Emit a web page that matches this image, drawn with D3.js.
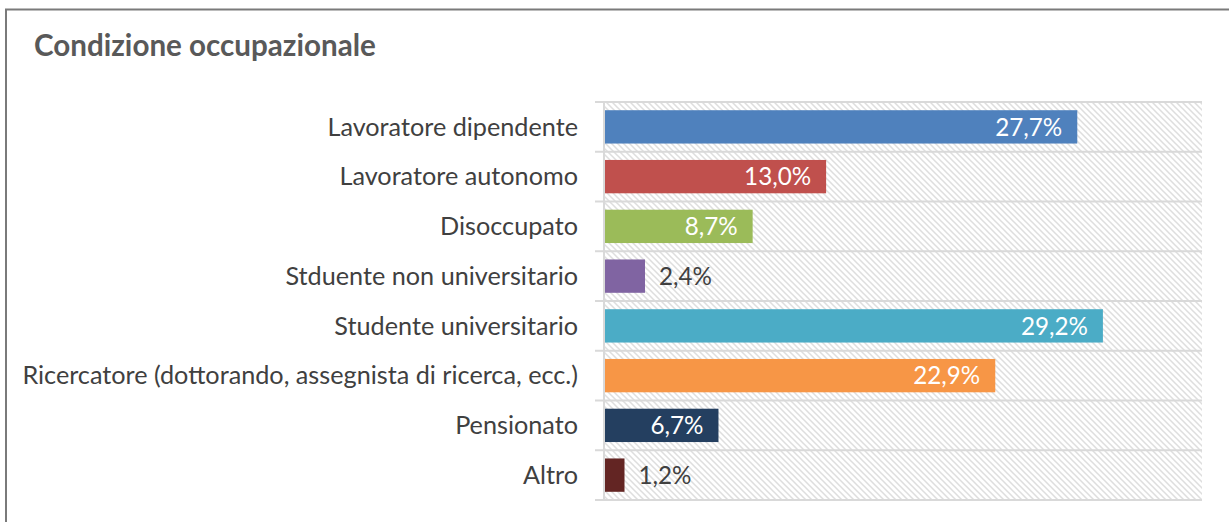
<!DOCTYPE html>
<html>
<head>
<meta charset="utf-8">
<script src="https://cdn.jsdelivr.net/npm/d3@7/dist/d3.min.js"></script>
<style>
  html, body { margin: 0; padding: 0; background: #ffffff; }
  svg { display: block; font-family: Lato, "Open Sans", sans-serif; }
</style>
</head>
<body>
<svg id="chart" width="1229" height="522"></svg>
<script>
// Employment status of respondents (percent)
const categories = [
  "Lavoratore dipendente",
  "Lavoratore autonomo",
  "Disoccupato",
  "Stduente non universitario",
  "Studente universitario",
  "Ricercatore (dottorando, assegnista di ricerca, ecc.)",
  "Pensionato",
  "Altro"
];
const values = [27.7, 13.0, 8.7, 2.4, 29.2, 22.9, 6.7, 1.2];
const colors = ["#4F81BD", "#C0504D", "#9BBB59", "#8064A2", "#4BACC6", "#F79646", "#243F60", "#632523"];
const valueLabels = ["27,7%", "13,0%", "8,7%", "2,4%", "29,2%", "22,9%", "6,7%", "1,2%"];
const title = "Condizione occupazionale";

const svg = d3.select("#chart");

// outer frame
svg.append("rect")
  .attr("x", 6).attr("y", 9.5)
  .attr("width", 1240).attr("height", 540)
  .attr("fill", "none").attr("stroke", "#7a7a7a").attr("stroke-width", 2);

// title
const titleText = svg.append("text")
  .attr("x", 34).attr("y", 56)
  .attr("fill", "#595959")
  .attr("font-weight", "bold")
  .attr("font-size", 22)
  .text(title);
{
  const w = titleText.node().getComputedTextLength();
  titleText.attr("font-size", 22 * 342 / w);
}

const plot = { left: 604, right: 1202, top: 102, bottom: 500 };

const x = d3.scaleLinear().domain([0, 35]).range([plot.left, plot.right]);
const y = d3.scaleBand().domain(categories).range([plot.top, plot.bottom]).paddingInner(0.33).paddingOuter(0.165);

// hatched plot background
const defs = svg.append("defs");
const pat = defs.append("pattern")
  .attr("id", "hatch")
  .attr("patternUnits", "userSpaceOnUse")
  .attr("width", 6).attr("height", 6);
pat.append("rect").attr("width", 6).attr("height", 6).attr("fill", "#ffffff");
pat.append("path")
  .attr("d", "M-1,-1 L7,7 M-1,5 L1,7 M5,-1 L7,1")
  .attr("stroke", "#dedede").attr("stroke-width", 1.5);

svg.append("rect")
  .attr("x", plot.left).attr("y", plot.top)
  .attr("width", plot.right - plot.left).attr("height", plot.bottom - plot.top)
  .attr("fill", "url(#hatch)");

// horizontal separators between categories
const boundaries = d3.range(categories.length + 1).map(i => plot.top + i * (plot.bottom - plot.top) / categories.length);
svg.append("g").selectAll("line")
  .data(boundaries)
  .join("line")
  .attr("x1", plot.left - 9).attr("x2", plot.right)
  .attr("y1", d => d).attr("y2", d => d)
  .attr("stroke", "#d9d9d9").attr("stroke-width", 2);

// category axis line
svg.append("line")
  .attr("x1", plot.left).attr("x2", plot.left)
  .attr("y1", plot.top).attr("y2", plot.bottom)
  .attr("stroke", "#d9d9d9").attr("stroke-width", 2);

// category labels via axis
const yAxis = d3.axisLeft(y).tickSize(0).tickPadding(0);
const axisG = svg.append("g")
  .attr("transform", `translate(${plot.left - 26},0)`)
  .call(yAxis);
axisG.select(".domain").remove();
axisG.selectAll("text")
  .attr("fill", "#404040")
  .attr("font-family", "Lato, 'Open Sans', sans-serif")
  .attr("font-size", 20)
  .attr("dy", "0.35em");
{
  const longest = axisG.selectAll("text").filter(d => d === categories[5]).node();
  const w = longest.getComputedTextLength();
  axisG.selectAll("text").attr("font-size", 20 * 556 / w);
}

// bars
svg.append("g").selectAll("rect")
  .data(values)
  .join("rect")
  .attr("x", x(0) + 1)
  .attr("y", (d, i) => y(categories[i]))
  .attr("width", d => x(d) - x(0) - 1)
  .attr("height", y.bandwidth())
  .attr("fill", (d, i) => colors[i]);

// value labels: inside when the bar is wide enough, otherwise just outside
const valueText = svg.append("g").selectAll("text")
  .data(values)
  .join("text")
  .attr("x", d => d > 5 ? x(d) - 15 : x(d) + 14)
  .attr("y", (d, i) => y(categories[i]) + y.bandwidth() / 2)
  .attr("dy", "0.36em")
  .attr("text-anchor", d => d > 5 ? "end" : "start")
  .attr("fill", d => d > 5 ? "#ffffff" : "#404040")
  .attr("font-size", 20)
  .text((d, i) => valueLabels[i]);
{
  const ref = valueText.filter((d, i) => i === 3).node();
  const w = ref.getComputedTextLength();
  valueText.attr("font-size", 20 * 53 / w);
}
</script>
</body>
</html>
